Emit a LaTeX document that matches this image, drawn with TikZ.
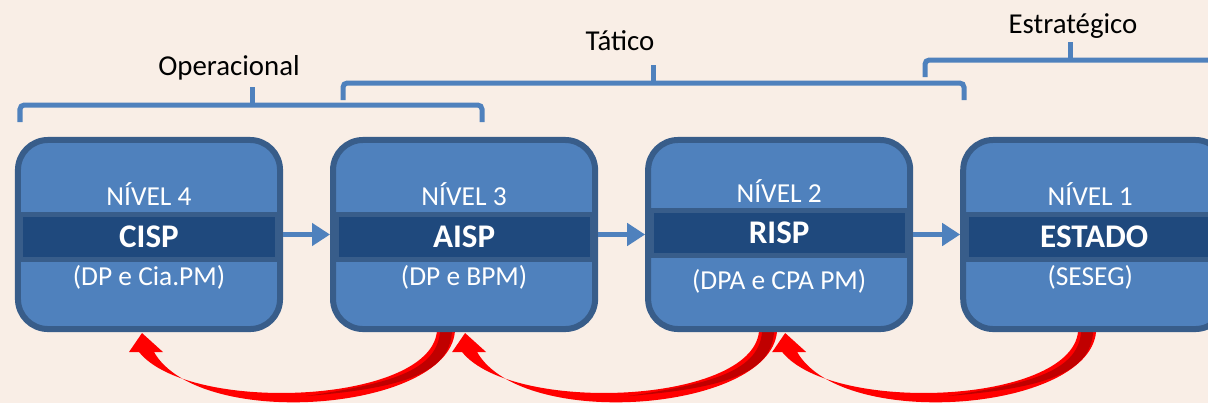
\documentclass[tikz,border=0pt]{standalone}
\usepackage{fontspec}
\setmainfont{Carlito}
\usetikzlibrary{positioning}
\usetikzlibrary{calc}
\usetikzlibrary{arrows.meta}
\usetikzlibrary{backgrounds}

\definecolor{fundo}{RGB}{249,238,230}
\definecolor{azul}{RGB}{79,129,189}
\definecolor{azulborda}{RGB}{56,93,138}
\definecolor{azulescuro}{RGB}{31,73,125}
\definecolor{vermelho}{RGB}{255,0,0}
\definecolor{vermelhoesc}{RGB}{192,0,0}

\begin{document}
\begin{tikzpicture} [
    x=0.025cm, y=-0.025cm,          % one unit = one pixel, y going down
    node distance=4mm and 1.175cm,  % gap between the boxes
    ]
% -------------------------------------------------
\tikzset{
  nivel/.style={draw=azulborda, fill=azul, line width=0.15cm, rounded corners=0.75cm,
    minimum width=6.55cm, minimum height=4.725cm, inner sep=0pt},
  faixa/.style={draw=azulborda, fill=azulescuro, line width=0.125cm, inner sep=0pt,
    minimum width=6.4cm, minimum height=1.125cm, text=white,
    font=\fontsize{23.5pt}{27pt}\selectfont\bfseries},
  txt/.style={text=white, anchor=base, inner sep=0pt, font=\fontsize{19.5pt}{23pt}\selectfont},
  titulo/.style={text=black, anchor=base, inner sep=0pt, font=\fontsize{20.5pt}{24pt}\selectfont},
  chave/.style={draw=azul, line width=0.125cm, rounded corners=3pt},
  seta/.style={draw=azul, line width=0.12cm, -{Triangle[length=0.45cm,width=0.55cm]}},
  volta/.style={fill=vermelho},
  sombra/.style={fill=vermelhoesc},
}
    \clip (0,0) rectangle (1208,403);

    % boxes
    \node [nivel] (n4) at (149,234.5) {};
    \node [nivel, right=of n4] (n3) {};
    \node [nivel, right=of n3] (n2) {};
    \node [nivel, right=of n2] (n1) {};

    \node [faixa] (f4) at ($(n4.center)+(0,2.5)$) {CISP};
    \node [faixa] (f3) at ($(n3.center)+(0,2.5)$) {AISP};
    \node [faixa] (f2) at ($(n2.center)+(0,-1.5)$) {RISP};
    \node [faixa] (f1) at ($(n1.center)+(0,2.5)$) {ESTADO};

    \node [txt] (t4) at ($(n4.center)+(0,-29.5)$) {NÍVEL 4};
    \node [txt] (t3) at ($(n3.center)+(0,-29.5)$) {NÍVEL 3};
    \node [txt] (t2) at ($(n2.center)+(0,-32)$) {NÍVEL 2};
    \node [txt] (t1) at ($(n1.center)+(-4,-29.5)$) {NÍVEL 1};

    \node [txt] (d4) at ($(n4.center)+(0,50.5)$) {(DP e Cia.PM)};
    \node [txt] (d3) at ($(n3.center)+(0,50.5)$) {(DP e BPM)};
    \node [txt] (d2) at ($(n2.center)+(0,55)$) {(DPA e CPA PM)};
    \node [txt] (d1) at ($(n1.center)+(-4,50.5)$) {(SESEG)};

    \path [seta] (n4) -- (n3);
    \path [seta] (n3) -- (n2);
    \path [seta] (n2) -- (n1);

    % brackets
    \draw [chave] (20,122) |- (482,105) -- (482,122);
    \draw [chave] (252,105) -- (252,87);
    \draw [chave] (343,100) |- (964,83) -- (964,100);
    \draw [chave] (653,83) -- (653,65);
    \draw [chave] (925,77) |- (1220,60);
    \draw [chave] (1070,60) -- (1070,42);

    \node [titulo] (op) at (229,75) {Operacional};
    \node [titulo] (ta) at (620,50) {Tático};
    \node [titulo] (es) at (1073,33) {Estratégico};

    % red return arrows
    \begin{scope}[on background layer]
    \fill [fundo] (0,0) rectangle (1208,403);
    \foreach \de/\para/\xini/\xfim in {n3/n4/-18/-7, n2/n3/-11/1, n1/n2/-7/6} {
      \coordinate (ini) at ($(\de.south)+(\xini,0)$);
      \coordinate (fim) at ($(\para.south)+(\xfim,1)$);
      \path [volta] ($(ini)+(9,-4)$) .. controls ($(ini)+(9,79)$) and ($(fim)+(58,99)$) .. ($(fim)+(12,19)$)
        -- ($(fim)+(21,19)$) -- (fim) -- ($(fim)+(-13,19)$) -- ($(fim)+(-3,19)$)
        .. controls ($(fim)+(48,82)$) and ($(ini)+(-9,72)$) .. ($(ini)+(-9,-4)$) -- cycle;
      \path [sombra] ($(ini)+(-6,-4)$) -- ($(ini)+(6,-4)$)
        .. controls ($(ini)+(6,40)$) and ($(ini)+(-40,56)$) .. ($(ini)+(-140,64)$)
        .. controls ($(ini)+(-60,52)$) and ($(ini)+(-6,40)$) .. ($(ini)+(-6,-4)$) -- cycle;
    }
    \end{scope}

\end{tikzpicture}
\end{document}
